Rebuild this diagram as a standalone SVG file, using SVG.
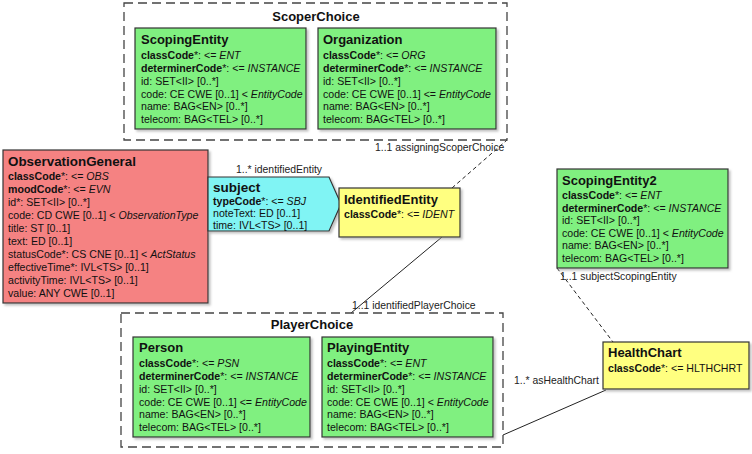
<svg xmlns="http://www.w3.org/2000/svg" width="752" height="454" viewBox="0 0 752 454">
<style>
text{font-family:"Liberation Sans",Arial,sans-serif;fill:#111}
.t{font-size:13px;font-weight:bold}
.a{font-size:10.6px}
.b{font-weight:bold}
.i{font-style:italic}
.lbl{font-size:10.4px;fill:#222}
.box{stroke:#333;stroke-width:1.2;filter:url(#sh)}
.g{fill:#80f080}
.r{fill:#f58282}
.c{fill:#80f4f4}
.y{fill:#ffff80}
.choice{fill:none;stroke:#444;stroke-width:1.3;stroke-dasharray:9 5}
.dl{fill:none;stroke:#222;stroke-width:1;stroke-dasharray:4 3}
.sl{fill:none;stroke:#222;stroke-width:1}
</style>
<defs>
<filter id="sh" x="-5%" y="-5%" width="115%" height="115%">
<feDropShadow dx="2" dy="2" stdDeviation="1" flood-color="#999" flood-opacity="0.6"/>
</filter>
</defs>
<rect width="752" height="454" fill="#fff"/>

<g id="connectors">
<path class="dl" d="M452,188 L507,140"/>
<path class="sl" d="M442,237 L351,313"/>
<path class="dl" d="M557,268 L613,342"/>
<path class="sl" d="M606,390 L503,435"/>
<text class="lbl" x="236" y="173">1..* identifiedEntity</text>
<text class="lbl" x="375" y="151">1..1 assigningScoperChoice</text>
<text class="lbl" x="352" y="309">1..1 identifiedPlayerChoice</text>
<text class="lbl" x="560" y="280">1..1 subjectScopingEntity</text>
<text class="lbl" x="514" y="384">1..* asHealthChart</text>
</g>

<g id="ScoperChoice">
<rect class="choice" x="124" y="3" width="383" height="137"/>
<text class="t" x="316" y="21" text-anchor="middle">ScoperChoice</text>
</g>

<g id="ScopingEntity">
<rect class="box g" x="135" y="28" width="171" height="101"/>
<text class="t" x="141" y="44">ScopingEntity</text>
<text class="a" x="141" y="59"><tspan class="b">classCode</tspan>*: &lt;= <tspan class="i">ENT</tspan></text>
<text class="a" x="141" y="72"><tspan class="b">determinerCode</tspan>*: &lt;= <tspan class="i">INSTANCE</tspan></text>
<text class="a" x="141" y="84.5">id: SET&lt;II&gt; [0..*]</text>
<text class="a" x="141" y="97.5">code: CE CWE [0..1] &lt; <tspan class="i">EntityCode</tspan></text>
<text class="a" x="141" y="110">name: BAG&lt;EN&gt; [0..*]</text>
<text class="a" x="141" y="122.5">telecom: BAG&lt;TEL&gt; [0..*]</text>
</g>

<g id="Organization">
<rect class="box g" x="318" y="28" width="178" height="101"/>
<text class="t" x="323" y="44">Organization</text>
<text class="a" x="323" y="59"><tspan class="b">classCode</tspan>*: &lt;= <tspan class="i">ORG</tspan></text>
<text class="a" x="323" y="72"><tspan class="b">determinerCode</tspan>*: &lt;= <tspan class="i">INSTANCE</tspan></text>
<text class="a" x="323" y="84.5">id: SET&lt;II&gt; [0..*]</text>
<text class="a" x="323" y="97.5">code: CE CWE [0..1] &lt;= <tspan class="i">EntityCode</tspan></text>
<text class="a" x="323" y="110">name: BAG&lt;EN&gt; [0..*]</text>
<text class="a" x="323" y="122.5">telecom: BAG&lt;TEL&gt; [0..*]</text>
</g>

<g id="ObservationGeneral">
<rect class="box r" x="3" y="150" width="205" height="153"/>
<text class="t" x="8" y="166" style="font-size:13.4px">ObservationGeneral</text>
<text class="a" x="8" y="180"><tspan class="b">classCode</tspan>*: &lt;= <tspan class="i">OBS</tspan></text>
<text class="a" x="8" y="193"><tspan class="b">moodCode</tspan>*: &lt;= <tspan class="i">EVN</tspan></text>
<text class="a" x="8" y="206">id*: SET&lt;II&gt; [0..*]</text>
<text class="a" x="8" y="219">code: CD CWE [0..1] &lt; <tspan class="i">ObservationType</tspan></text>
<text class="a" x="8" y="232">title: ST [0..1]</text>
<text class="a" x="8" y="245">text: ED [0..1]</text>
<text class="a" x="8" y="258">statusCode*: CS CNE [0..1] &lt; <tspan class="i">ActStatus</tspan></text>
<text class="a" x="8" y="271">effectiveTime*: IVL&lt;TS&gt; [0..1]</text>
<text class="a" x="8" y="284">activityTime: IVL&lt;TS&gt; [0..1]</text>
<text class="a" x="8" y="297">value: ANY CWE [0..1]</text>
</g>

<g id="subject">
<path class="box c" d="M208,177 L329,177 L341,204 L329,231 L208,231 Z"/>
<text class="t" x="213" y="192" style="font-size:13.5px">subject</text>
<text class="a" x="213" y="205"><tspan class="b">typeCode</tspan>*: &lt;= <tspan class="i">SBJ</tspan></text>
<text class="a" x="213" y="217">noteText: ED [0..1]</text>
<text class="a" x="213" y="229">time: IVL&lt;TS&gt; [0..1]</text>
</g>

<g id="IdentifiedEntity">
<rect class="box y" x="339" y="188" width="121" height="49"/>
<text class="t" x="344" y="204">IdentifiedEntity</text>
<text class="a" x="344" y="218"><tspan class="b">classCode</tspan>*: &lt;= <tspan class="i">IDENT</tspan></text>
</g>

<g id="ScopingEntity2">
<rect class="box g" x="557" y="169" width="171" height="99"/>
<text class="t" x="562" y="185">ScopingEntity2</text>
<text class="a" x="562" y="199"><tspan class="b">classCode</tspan>*: &lt;= <tspan class="i">ENT</tspan></text>
<text class="a" x="562" y="211.5"><tspan class="b">determinerCode</tspan>*: &lt;= <tspan class="i">INSTANCE</tspan></text>
<text class="a" x="562" y="224">id: SET&lt;II&gt; [0..*]</text>
<text class="a" x="562" y="236.5">code: CE CWE [0..1] &lt; <tspan class="i">EntityCode</tspan></text>
<text class="a" x="562" y="249">name: BAG&lt;EN&gt; [0..*]</text>
<text class="a" x="562" y="261.5">telecom: BAG&lt;TEL&gt; [0..*]</text>
</g>

<g id="PlayerChoice">
<rect class="choice" x="121" y="313" width="382" height="134"/>
<text class="t" x="312" y="329" text-anchor="middle">PlayerChoice</text>
</g>

<g id="Person">
<rect class="box g" x="133" y="337" width="177" height="100"/>
<text class="t" x="139" y="352">Person</text>
<text class="a" x="139" y="367"><tspan class="b">classCode</tspan>*: &lt;= <tspan class="i">PSN</tspan></text>
<text class="a" x="139" y="380"><tspan class="b">determinerCode</tspan>*: &lt;= <tspan class="i">INSTANCE</tspan></text>
<text class="a" x="139" y="392.5">id: SET&lt;II&gt; [0..*]</text>
<text class="a" x="139" y="405.5">code: CE CWE [0..1] &lt;= <tspan class="i">EntityCode</tspan></text>
<text class="a" x="139" y="418">name: BAG&lt;EN&gt; [0..*]</text>
<text class="a" x="139" y="431">telecom: BAG&lt;TEL&gt; [0..*]</text>
</g>

<g id="PlayingEntity">
<rect class="box g" x="322" y="337" width="171" height="100"/>
<text class="t" x="327" y="352">PlayingEntity</text>
<text class="a" x="327" y="367"><tspan class="b">classCode</tspan>*: &lt;= <tspan class="i">ENT</tspan></text>
<text class="a" x="327" y="380"><tspan class="b">determinerCode</tspan>*: &lt;= <tspan class="i">INSTANCE</tspan></text>
<text class="a" x="327" y="392.5">id: SET&lt;II&gt; [0..*]</text>
<text class="a" x="327" y="405.5">code: CE CWE [0..1] &lt; <tspan class="i">EntityCode</tspan></text>
<text class="a" x="327" y="418">name: BAG&lt;EN&gt; [0..*]</text>
<text class="a" x="327" y="431">telecom: BAG&lt;TEL&gt; [0..*]</text>
</g>

<g id="HealthChart">
<rect class="box y" x="603" y="342" width="146" height="47"/>
<text class="t" x="608" y="357">HealthChart</text>
<text class="a" x="608" y="372"><tspan class="b">classCode</tspan>*: &lt;= HLTHCHRT</text>
</g>
</svg>
